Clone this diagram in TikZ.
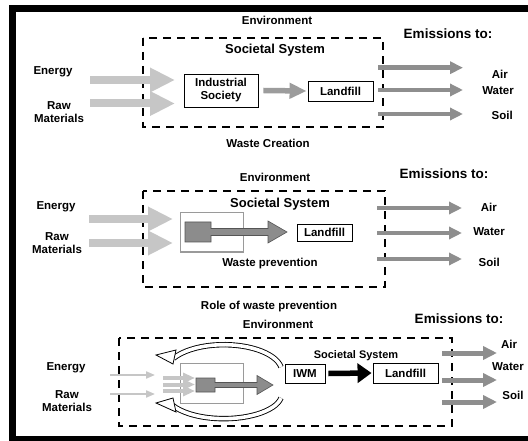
\documentclass[tikz,border=0pt]{standalone}
\usepackage{fontspec}
\setmainfont{Liberation Sans}
\usetikzlibrary{arrows.meta}
\definecolor{inlight}{HTML}{C6C6C6}
\definecolor{emgray}{HTML}{8E8E8E}
\definecolor{midgray}{HTML}{9C9C9C}
\definecolor{boxgray}{HTML}{9A9A9A}
\definecolor{sqgray}{HTML}{8C8C8C}
\definecolor{sqline}{HTML}{555555}
\begin{document}
\begin{tikzpicture}[x=1pt,y=-1pt,
  lbl/.style={font=\bfseries\fontsize{11.5}{13}\selectfont, align=center, inner sep=0pt},
  lblbig/.style={font=\bfseries\fontsize{13.5}{15}\selectfont, inner sep=0pt},
  lblsoc/.style={font=\bfseries\fontsize{13}{15}\selectfont, inner sep=0pt},
  lblsml/.style={font=\bfseries\fontsize{11}{13}\selectfont, inner sep=0pt},
  sysbox/.style={draw, line width=1.2pt, dash pattern=on 8pt off 6pt},
  wbox/.style={draw, line width=0.9pt, fill=white, font=\bfseries\fontsize{11.5}{13}\selectfont, align=center, inner sep=0pt},
  lightbox/.style={draw=boxgray, line width=1pt},
  bigin/.style={draw=inlight, line width=8pt, -{Triangle[width=23pt,length=25pt]}},
  smallin/.style={draw=inlight, line width=2pt, -{Triangle[width=7pt,length=9pt]}},
  midin/.style={draw=inlight, line width=4pt, -{Triangle[width=10pt,length=12pt]}},
  emis/.style={draw=emgray, line width=4.5pt, -{Triangle[width=12pt,length=13pt]}},
  emisb/.style={draw=emgray, line width=5pt, -{Triangle[width=13pt,length=14pt]}},
  flowmid/.style={draw=midgray, line width=5.5pt, -{Triangle[width=15pt,length=17pt]}},
  flowblk/.style={draw=black, line width=5.5pt, -{Triangle[width=19pt,length=14pt]}},
  sqarrow/.style={fill=sqgray, draw=sqline, line width=0.6pt},
  loopband/.style={line width=5.4pt, draw=black},
  loopfill/.style={line width=3.6pt, draw=white},
  loophead/.style={fill=white, draw=black, line width=0.8pt, line join=miter}
]
\useasboundingbox (0,0) rectangle (528,441);
\clip (0,0) rectangle (528,441);
\fill[white] (0,0) rectangle (528,441);
% frame
\draw[line width=7pt] (12.5,450) -- (12.5,9) -- (540,9);
\draw[line width=6pt] (9,438.5) -- (540,438.5);

% ================= top panel =================
\node[lbl] (env1) at (277,20) {Environment};
\node[lblbig] (emt1) at (448,34) {Emissions to:};
\draw[sysbox] (143,38) rectangle (383,127);
\node[lblsoc] (soc1) at (275,50) {Societal System};
\node[lbl] (en1) at (53,72) {Energy};
\node[lbl] (raw1) at (59,112) {Raw\\Materials};
\draw[bigin] (90,80) -- (175,80);
\draw[bigin] (90,103.5) -- (175,103.5);
\node[wbox, minimum width=74pt, minimum height=33pt] (is1) at (221,90.5) {Industrial\\Society};
\node[wbox, minimum width=65pt, minimum height=20pt] (lf1) at (340.5,91) {Landfill};
\draw[flowmid] ([xshift=5pt]is1.east) -- ([xshift=-1pt]lf1.west);
\draw[emis] (378,67.7) -- (463,67.7);
\draw[emis] (378,90) -- (463,90);
\draw[emis] (378,114) -- (463,114);
\node[lbl, anchor=east] (air1) at (508,74) {Air};
\node[lbl, anchor=east] (wat1) at (514,91) {Water};
\node[lbl, anchor=east] (soil1) at (513,115) {Soil};
\node[lbl] (wc1) at (268,143) {Waste Creation};

% ================= middle panel =================
\node[lbl] (env2) at (275,177) {Environment};
\node[lblbig] (emt2) at (444,174) {Emissions to:};
\draw[sysbox] (143,191) rectangle (385,287);
\node[lblsoc] (soc2) at (280,204) {Societal System};
\node[lbl] (en2) at (56,207) {Energy};
\node[lbl] (raw2) at (57,243) {Raw\\Materials};
\draw[bigin] (89,219) -- (173,219);
\draw[bigin] (89,243) -- (173,243);
\draw[lightbox] (180,213) rectangle (243,252);
\draw[sqarrow] (185,222) -- (211,222) -- (211,228.5) -- (268,228.5) -- (268,221) -- (287,232)
  -- (268,243) -- (268,235.5) -- (211,235.5) -- (211,242) -- (185,242) -- cycle;
\node[wbox, minimum width=55pt, minimum height=17pt] (lf2) at (324.5,232.5) {Landfill};
\node[lbl] (wp2) at (270,264) {Waste prevention};
\draw[emis] (377,208) -- (462,208);
\draw[emis] (377,233) -- (462,233);
\draw[emis] (377,259) -- (462,259);
\node[lbl, anchor=east] (air2) at (497,207) {Air};
\node[lbl, anchor=east] (wat2) at (505,232) {Water};
\node[lbl, anchor=east] (soil2) at (500,262) {Soil};
\node[lbl] (role) at (269,307) {Role of waste prevention};

% ================= bottom panel =================
\node[lbl] (env3) at (278,324) {Environment};
\node[lblbig] (emt3) at (459,319) {Emissions to:};
\draw[sysbox] (119,338) rectangle (452,426);
\node[lblsml] (soc3) at (356,356) {Societal System};
\node[lbl] (en3) at (66,368) {Energy};
\node[lbl] (raw3) at (67,401) {Raw\\Materials};
\draw[smallin] (110,375) -- (155,375);
\draw[smallin] (110,394) -- (155,394);
\draw[lightbox] (180,363) rectangle (243,403);
\draw[midin] (163,378) -- (195,378);
\draw[midin] (163,384.5) -- (195,384.5);
\draw[midin] (163,391) -- (195,391);
\draw[sqarrow] (196,378) -- (215,378) -- (215,382.5) -- (257,382.5) -- (257,375.5) -- (273,385)
  -- (257,394.5) -- (257,387.5) -- (215,387.5) -- (215,392) -- (196,392) -- cycle;
% loop arrows
\draw[loopband] (281,367) arc[start angle=10, end angle=150, x radius=58pt, y radius=27pt];
\draw[loopfill] (281,367) arc[start angle=10, end angle=150, x radius=58pt, y radius=27pt];
\draw[loophead] (156,355) -- (176,350) -- (173,364) -- cycle;
\draw[loopband] (281,398) arc[start angle=-10, end angle=-152, x radius=58pt, y radius=25pt];
\draw[loopfill] (281,398) arc[start angle=-10, end angle=-152, x radius=58pt, y radius=25pt];
\draw[loophead] (156,403) -- (173,398) -- (176,412) -- cycle;
\node[wbox, minimum width=40pt, minimum height=19pt] (iwm) at (305,373.5) {IWM};
\node[wbox, minimum width=65pt, minimum height=20pt] (lf3) at (405.5,373) {Landfill};
\draw[flowblk] ([xshift=3pt]iwm.east) -- ([xshift=-1pt]lf3.west);
\draw[emisb] (442,353) -- (497,353);
\draw[emisb] (442,380) -- (497,380);
\draw[emisb] (442,402) -- (497,402);
\node[lbl] (air3) at (509,344) {Air};
\node[lbl] (wat3) at (508,367) {Water};
\node[lbl] (soil3) at (513,395) {Soil};
\end{tikzpicture}
\end{document}
